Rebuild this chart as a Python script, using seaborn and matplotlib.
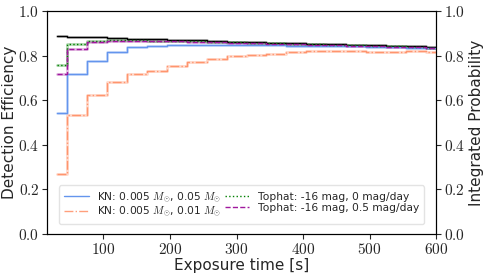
import matplotlib
matplotlib.use("Agg")
import matplotlib.pyplot as plt
import seaborn as sns
import pandas as pd
from matplotlib.ticker import FuncFormatter

# exposure times (s)
exposure = [30, 60, 90, 120, 150, 180, 210, 240, 270, 300,
            330, 360, 390, 420, 450, 480, 510, 540, 570, 600]

kn_005_05 = [0.543, 0.719, 0.776, 0.818, 0.840, 0.845, 0.848, 0.850, 0.849, 0.848,
             0.847, 0.846, 0.845, 0.844, 0.843, 0.842, 0.840, 0.838, 0.836, 0.834]
kn_005_01 = [0.268, 0.534, 0.623, 0.680, 0.720, 0.732, 0.753, 0.771, 0.786, 0.797,
             0.804, 0.808, 0.815, 0.819, 0.820, 0.822, 0.818, 0.817, 0.822, 0.815]
tophat_0 = [0.759, 0.852, 0.866, 0.871, 0.870, 0.868, 0.866, 0.864, 0.862, 0.860,
            0.857, 0.855, 0.853, 0.851, 0.849, 0.847, 0.845, 0.843, 0.840, 0.836]
tophat_05 = [0.719, 0.830, 0.862, 0.868, 0.867, 0.866, 0.864, 0.862, 0.860, 0.858,
             0.855, 0.853, 0.851, 0.849, 0.847, 0.845, 0.843, 0.841, 0.838, 0.833]
integrated = [0.889, 0.886, 0.883, 0.880, 0.877, 0.875, 0.872, 0.869, 0.866, 0.863,
              0.860, 0.858, 0.856, 0.853, 0.851, 0.849, 0.846, 0.844, 0.842, 0.839]

labels = [r"KN: 0.005 $M_{\odot}$, 0.05 $M_{\odot}$",
          r"KN: 0.005 $M_{\odot}$, 0.01 $M_{\odot}$",
          "Tophat: -16 mag, 0 mag/day",
          "Tophat: -16 mag, 0.5 mag/day"]
series = [kn_005_05, kn_005_01, tophat_0, tophat_05]
colors = ["cornflowerblue", "coral", "green", "#a0189e"]
styles = ["-", "-.", ":", "--"]
alphas = [1.0, 0.75, 1.0, 1.0]

sns.set_style("ticks")
plt.rcParams["mathtext.fontset"] = "cm"
plt.rcParams["font.family"] = ["DejaVu Sans"]

fig, ax = plt.subplots(figsize=(4.84, 2.77), dpi=100)
fig.subplots_adjust(left=0.097, right=0.901, bottom=0.155, top=0.960)
ax2 = ax.twinx()

df = pd.DataFrame({"t": exposure})
for vals, lab, c, ls, al in zip(series, labels, colors, styles, alphas):
    df["v"] = vals
    # faint copy on the integrated-probability axis
    sns.lineplot(data=df, x="t", y="v", ax=ax2, color=c, lw=2.0, alpha=0.3,
                 drawstyle="steps-mid", linestyle="-", legend=False)
    sns.lineplot(data=df, x="t", y="v", ax=ax, color=c, lw=1.0, linestyle=ls,
                 alpha=al, drawstyle="steps-mid", label=lab)

df["v"] = integrated
sns.lineplot(data=df, x="t", y="v", ax=ax2, color="gray", lw=2.0, alpha=0.5,
             drawstyle="steps-mid", legend=False)
sns.lineplot(data=df, x="t", y="v", ax=ax2, color="black", lw=1.0,
             drawstyle="steps-mid", legend=False)

fmt = FuncFormatter(lambda v, p: r"$%.1f$" % v)
for a in (ax, ax2):
    a.set_ylim(0, 1)
    a.set_xlim(15, 600)
    a.yaxis.set_major_formatter(fmt)
    a.tick_params(labelsize=11, length=3.5, width=0.8, pad=2)
    for s in a.spines.values():
        s.set_color("black")
        s.set_linewidth(0.8)
ax.set_xticks([100, 200, 300, 400, 500, 600])
ax.xaxis.set_major_formatter(FuncFormatter(lambda v, p: r"$%d$" % v))
ax.set_yticks([0, 0.2, 0.4, 0.6, 0.8, 1.0])
ax2.set_yticks([0, 0.2, 0.4, 0.6, 0.8, 1.0])

ax.set_xlabel("Exposure time [s]", fontsize=11, labelpad=1)
ax.set_ylabel("Detection Efficiency", fontsize=11, labelpad=1)
ax2.set_ylabel("Integrated Probability", fontsize=11, labelpad=3)
ax2.set_xlabel("")

leg = ax.legend(loc="lower center", ncol=2, fontsize=7.7, frameon=True,
                handlelength=2.3, columnspacing=0.3, labelspacing=0.05,
                borderpad=0.45, bbox_to_anchor=(0.5, 0.02))
leg.get_frame().set_edgecolor("#dddddd")
ax.set_zorder(ax2.get_zorder() + 1)
ax.patch.set_visible(False)

fig.savefig("out.png", dpi=100)
